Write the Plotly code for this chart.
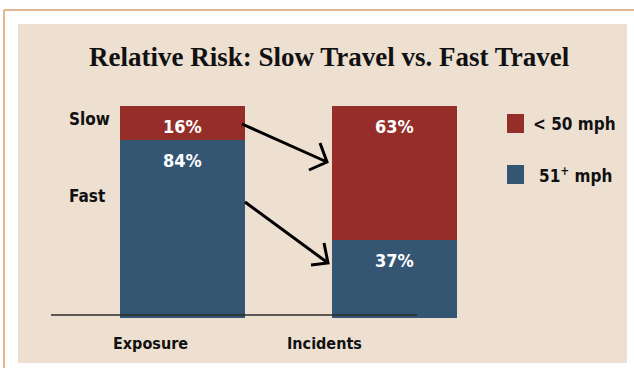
import plotly.graph_objects as go

categories = ["Exposure", "Incidents"]
slow_values = [16, 63]   # < 50 mph
fast_values = [84, 37]   # 51+ mph
series_names = ["< 50 mph", "51<sup>+</sup> mph"]
title_text = "Relative Risk: Slow Travel vs. Fast Travel"

RED = "#952d28"
BLUE = "#345673"
BEIGE = "#ede0d1"
BORDER = "#d8a070"

W, H = 634, 368
L, R, T, B = 77, 134, 106, 50
PW, PH = W - L - R, H - T - B

def px(x):
    return (x - L) / PW

def py(y):
    return (H - B - y) / PH

NARROW = "Liberation Sans Narrow, Arial Narrow, DejaVu Sans Condensed, sans-serif"

fig = go.Figure()
fig.add_trace(go.Bar(x=categories, y=fast_values, name=series_names[1],
                     marker=dict(color=BLUE, line=dict(width=0)), showlegend=False))
fig.add_trace(go.Bar(x=categories, y=slow_values, name=series_names[0],
                     marker=dict(color=RED, line=dict(width=0)), showlegend=False))

shapes = []
shapes.append(dict(type="rect", xref="paper", yref="paper", layer="below",
                   x0=px(18), x1=px(627), y0=py(363), y1=py(24),
                   fillcolor=BEIGE, line=dict(width=0)))
shapes.append(dict(type="line", xref="paper", yref="paper", layer="below",
                   x0=px(4), x1=px(4), y0=py(10), y1=py(368),
                   line=dict(color=BORDER, width=1.5)))
shapes.append(dict(type="line", xref="paper", yref="paper", layer="below",
                   x0=px(4), x1=px(634), y0=py(10), y1=py(10),
                   line=dict(color=BORDER, width=1.5)))
shapes.append(dict(type="line", xref="paper", yref="paper", layer="above",
                   x0=px(51), x1=px(417), y0=py(315), y1=py(315),
                   line=dict(color="#2a2a2a", width=1.5)))

def arrow(x1, y1, x2, y2, hx1, hy1, hx2, hy2):
    path = (f"M {px(x1)} {py(y1)} L {px(x2)} {py(y2)} "
            f"M {px(hx1)} {py(hy1)} L {px(x2)} {py(y2)} L {px(hx2)} {py(hy2)}")
    return dict(type="path", xref="paper", yref="paper", layer="above", path=path,
                line=dict(color="black", width=3))

shapes.append(arrow(242, 124, 327, 162, 320, 143, 309, 170))
shapes.append(arrow(245, 202, 328, 263, 324, 243, 311, 265))

shapes.append(dict(type="rect", xref="paper", yref="paper",
                   x0=px(507), x1=px(524), y0=py(133), y1=py(114),
                   fillcolor=RED, line=dict(width=0)))
shapes.append(dict(type="rect", xref="paper", yref="paper",
                   x0=px(507), x1=px(524), y0=py(184), y1=py(165),
                   fillcolor=BLUE, line=dict(width=0)))

annotations = []
annotations.append(dict(text=f"<b>{title_text}</b>", xref="paper", yref="paper",
                        x=px(329), y=py(57), xanchor="center", yanchor="middle",
                        showarrow=False,
                        font=dict(family="Liberation Serif, Times New Roman, serif",
                                  size=27, color="#111111")))
annotations.append(dict(text="<b>Slow</b>", xref="paper", yref="paper",
                        x=px(67), y=py(119), xanchor="left", yanchor="middle",
                        showarrow=False, font=dict(family=NARROW, size=17, color="#111111")))
annotations.append(dict(text="<b>Fast</b>", xref="paper", yref="paper",
                        x=px(67), y=py(196), xanchor="left", yanchor="middle",
                        showarrow=False, font=dict(family=NARROW, size=17, color="#111111")))
for cat, cx in zip(categories, [150, 324]):
    annotations.append(dict(text=f"<b>{cat}</b>", xref="paper", yref="paper",
                            x=px(cx), y=py(343), xanchor="center", yanchor="middle",
                            showarrow=False, font=dict(family=NARROW, size=16, color="#111111")))
for i, cat in enumerate(categories):
    tops = [(fast_values[i], fast_values[i]), (fast_values[i] + slow_values[i], slow_values[i])]
    for top, val in tops:
        annotations.append(dict(text=f"<b>{val}%</b>", x=cat, y=top, xref="x", yref="y",
                                xanchor="center", yanchor="top", yshift=-8,
                                showarrow=False,
                                font=dict(family=NARROW, size=18, color="white")))
annotations.append(dict(text=f"<b>{series_names[0]}</b>", xref="paper", yref="paper",
                        x=px(531), y=py(124), xanchor="left", yanchor="middle",
                        showarrow=False, font=dict(family=NARROW, size=17, color="#111111")))
annotations.append(dict(text=f"<b>{series_names[1]}</b>", xref="paper", yref="paper",
                        x=px(537), y=py(175), xanchor="left", yanchor="middle",
                        showarrow=False, font=dict(family=NARROW, size=17, color="#111111")))

fig.update_layout(
    width=W, height=H,
    margin=dict(l=L, r=R, t=T, b=B),
    paper_bgcolor="white",
    plot_bgcolor="rgba(0,0,0,0)",
    barmode="stack",
    bargap=0.41,
    xaxis=dict(range=[-0.5, 1.5], showticklabels=False, showgrid=False,
               zeroline=False, showline=False, ticks=""),
    yaxis=dict(range=[0, 100], showticklabels=False, showgrid=False,
               zeroline=False, showline=False, ticks=""),
    shapes=shapes,
    annotations=annotations,
    showlegend=False,
)

fig.write_html("out.html")
